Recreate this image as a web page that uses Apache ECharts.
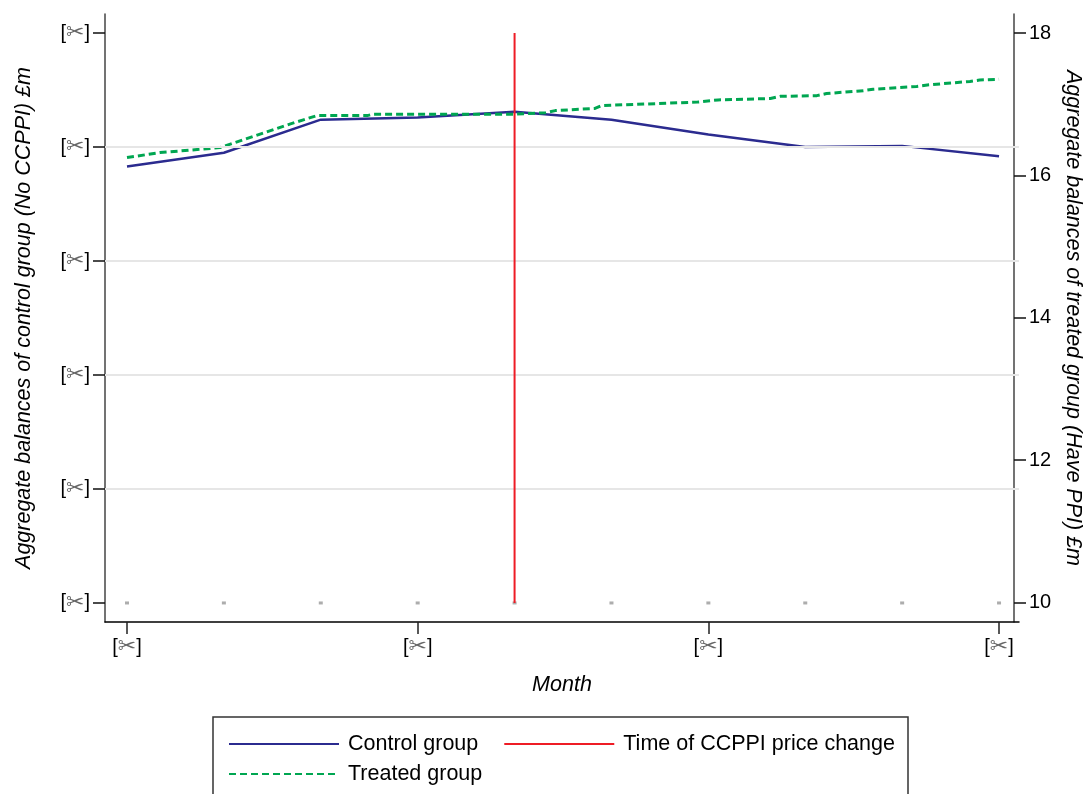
<!DOCTYPE html>
<html>
<head>
<meta charset="utf-8">
<script src="https://cdn.jsdelivr.net/npm/echarts@6/dist/echarts.min.js"></script>
<style>html,body{margin:0;padding:0;background:#fff;}#c{width:1088px;height:794px;}</style>
</head>
<body>
<div id="c"></div>
<script>
// Month index (0..9), labels redacted in the source
const months = [0, 1, 2, 3, 4, 5, 6, 7, 8, 9];
const xTickValues = [0, 3, 6, 9];
const leftTickValues = [0, 1, 2, 3, 4, 5];
const rightTickValues = [10, 12, 14, 16, 18];
const leftGridValues = [1, 2, 3, 4];
// Control group (left axis, redacted units)
const controlValues = [3.83, 3.95, 4.24, 4.26, 4.31, 4.24, 4.11, 4.00, 4.01, 3.92];
// Treated group (right axis, £m), sampled at fractional month positions
const treatedX = [0, 0.34, 0.96, 1.68, 1.82, 1.96, 2.48, 2.54, 4.00, 4.32, 4.42, 4.83, 4.90, 5.89, 6.10, 6.64, 6.74, 7.12, 7.22, 7.60, 7.70, 8.15, 8.26, 8.70, 8.80, 9.00];
const treatedValues = [16.25, 16.32, 16.39, 16.72, 16.78, 16.84, 16.84, 16.86, 16.86, 16.88, 16.91, 16.94, 16.98, 17.03, 17.06, 17.08, 17.11, 17.12, 17.15, 17.19, 17.21, 17.25, 17.27, 17.32, 17.34, 17.35];
// Time of CCPPI price change (month index) and spike height on left axis
const changeMonth = 4;
const changeRange = [0, 5];

const FONT = 'Liberation Sans, Arial, sans-serif';
const redacted = '[{s|\u2702}]';
const richRed = { s: { color: '#666', fontSize: 22, fontFamily: 'DejaVu Sans' } };
const titleStyle = { fontFamily: FONT, fontSize: 21.5, fontStyle: 'italic', color: '#000' };

const chart = echarts.init(document.getElementById('c'));
chart.setOption({
  backgroundColor: '#fff',
  animation: false,
  textStyle: { fontFamily: FONT },
  grid: { left: 105, top: 14, right: 69, bottom: 172, containLabel: false, outerBoundsMode: 'none' },
  xAxis: {
    type: 'value', min: -0.227, max: 9.206,
    name: 'Month', nameLocation: 'middle', nameGap: 52,
    nameTextStyle: titleStyle,
    axisLine: { show: true, onZero: false, lineStyle: { color: '#000', width: 1.5 } },
    axisTick: { show: true, length: 12, customValues: xTickValues, lineStyle: { color: '#222', width: 1.5 } },
    axisLabel: { customValues: xTickValues, formatter: () => redacted, rich: richRed, fontSize: 20, color: '#000', margin: 14 },
    splitLine: { show: false }
  },
  yAxis: [{
    type: 'value', position: 'left', min: -0.167, max: 5.167,
    name: 'Aggregate balances of control group (No CCPPI) \u00a3m', nameLocation: 'middle', nameGap: 70,
    nameTextStyle: titleStyle,
    axisLine: { show: true, onZero: false, lineStyle: { color: '#444', width: 1.5 } },
    axisTick: { show: true, length: 12, customValues: leftTickValues, lineStyle: { color: '#111', width: 1.5 } },
    axisLabel: { customValues: leftTickValues, formatter: () => redacted, rich: richRed, fontSize: 20, color: '#000', margin: 15 },
    splitLine: { show: false }
  }, {
    type: 'value', position: 'right', offset: -5, min: 9.726, max: 18.267,
    name: 'Aggregate balances of treated group (Have PPI) \u00a3m', nameLocation: 'middle', nameGap: 48, nameRotate: -90,
    nameTextStyle: titleStyle,
    axisLine: { show: true, onZero: false, lineStyle: { color: '#444', width: 1.5 } },
    axisTick: { show: true, length: 12, customValues: rightTickValues, lineStyle: { color: '#111', width: 1.5 } },
    axisLabel: { customValues: rightTickValues, fontSize: 20, color: '#000', margin: 15 },
    splitLine: { show: false }
  }],
  legend: [{
    data: ['Control group', 'Time of CCPPI price change'],
    left: 228, top: 733, itemWidth: 110, itemHeight: 14, itemGap: 25,
    itemStyle: { opacity: 0 },
    textStyle: { fontFamily: FONT, fontSize: 21.5, color: '#000', padding: [0, 0, 0, 4] },
    padding: 0
  }, {
    data: ['Treated group'],
    left: 228, top: 763, itemWidth: 110, itemHeight: 14, itemGap: 25,
    itemStyle: { opacity: 0 },
    textStyle: { fontFamily: FONT, fontSize: 21.5, color: '#000', padding: [0, 0, 0, 4] },
    padding: 0
  }],
  graphic: [{
    type: 'rect', shape: { x: 213, y: 717, width: 695, height: 90 },
    style: { fill: 'none', stroke: '#333', lineWidth: 1.5 }, silent: true
  }],
  series: [{
    name: 'baseline', type: 'scatter', yAxisIndex: 0, z: 1,
    data: months.map(m => [m, 0]),
    symbol: 'rect', symbolSize: [4, 3], itemStyle: { color: '#999' }, silent: true,
    markLine: {
      silent: true, symbol: 'none', label: { show: false },
      lineStyle: { color: '#e6e6e6', width: 2, type: 'solid' },
      data: leftGridValues.map(v => ({ yAxis: v }))
    }
  }, {
    name: 'Control group', type: 'line', yAxisIndex: 0, z: 3,
    data: months.map((m, i) => [m, controlValues[i]]),
    symbol: 'none', lineStyle: { color: '#2b2b8f', width: 2.5 }, itemStyle: { color: '#2b2b8f' }
  }, {
    name: 'Treated group', type: 'line', yAxisIndex: 1, z: 4,
    data: treatedX.map((x, i) => [x, treatedValues[i]]),
    symbol: 'none', lineStyle: { color: '#00a651', width: 3, type: [7, 4] }, itemStyle: { color: '#00a651' }
  }, {
    name: 'Time of CCPPI price change', type: 'line', yAxisIndex: 0, z: 5,
    data: changeRange.map(v => [changeMonth, v]),
    symbol: 'none', lineStyle: { color: '#ee1c25', width: 2 }, itemStyle: { color: '#ee1c25' }
  }]
});
</script>
</body>
</html>
